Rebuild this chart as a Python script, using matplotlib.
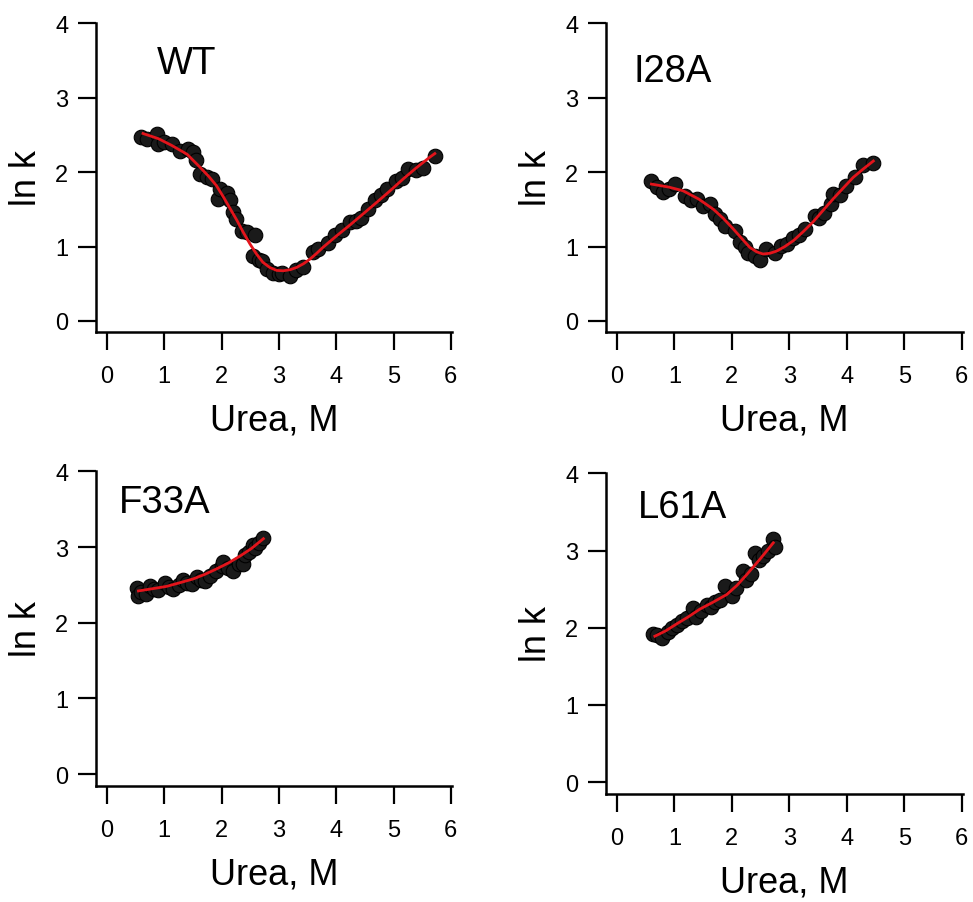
import matplotlib
matplotlib.use("Agg")
import matplotlib.pyplot as plt

plt.rcParams['font.family'] = ['Liberation Sans', 'DejaVu Sans']

# ---------------- data ----------------
wt_x = [0.60, 0.70, 0.87, 0.90, 1.00, 1.13, 1.27, 1.42, 1.50, 1.56, 1.62, 1.75, 1.83, 1.94,
        1.97, 2.10, 2.15, 2.20, 2.26, 2.35, 2.45, 2.55, 2.58, 2.65, 2.70, 2.80, 2.90, 3.00,
        3.05, 3.19, 3.30, 3.42, 3.60, 3.69, 3.85, 3.98, 4.10, 4.24, 4.35, 4.44, 4.55, 4.67,
        4.78, 4.88, 5.05, 5.15, 5.26, 5.40, 5.52, 5.72]
wt_y = [2.47, 2.44, 2.51, 2.38, 2.40, 2.38, 2.29, 2.31, 2.27, 2.17, 1.97, 1.93, 1.91, 1.64,
        1.77, 1.72, 1.62, 1.46, 1.37, 1.21, 1.19, 0.88, 1.15, 0.82, 0.80, 0.70, 0.65, 0.63,
        0.65, 0.61, 0.68, 0.72, 0.93, 0.97, 1.05, 1.15, 1.22, 1.33, 1.34, 1.39, 1.50, 1.62,
        1.70, 1.77, 1.88, 1.92, 2.04, 2.03, 2.06, 2.22]
wt_fit_x = [0.63, 0.90, 1.13, 1.40, 1.62, 1.78, 1.91, 2.03, 2.15, 2.27, 2.38, 2.50, 2.61, 2.72,
            2.84, 2.96, 3.08, 3.20, 3.31, 3.43, 3.54, 3.66, 3.77, 4.00, 4.24, 4.47, 4.70, 4.94,
            5.17, 5.40, 5.63, 5.72]
wt_fit_y = [2.52, 2.45, 2.36, 2.24, 2.07, 1.94, 1.82, 1.67, 1.51, 1.35, 1.19, 1.03, 0.90, 0.79,
            0.72, 0.68, 0.675, 0.69, 0.72, 0.77, 0.83, 0.91, 0.99, 1.14, 1.29, 1.44, 1.59, 1.75,
            1.91, 2.06, 2.20, 2.25]

i28_x = [0.60, 0.70, 0.81, 0.90, 1.01, 1.18, 1.28, 1.39, 1.50, 1.62, 1.70, 1.80, 1.88, 2.05,
         2.14, 2.22, 2.28, 2.40, 2.49, 2.60, 2.75, 2.86, 2.96, 3.07, 3.17, 3.27, 3.44, 3.52,
         3.60, 3.73, 3.76, 3.88, 3.99, 4.14, 4.28, 4.46]
i28_y = [1.88, 1.80, 1.73, 1.78, 1.84, 1.68, 1.62, 1.64, 1.55, 1.57, 1.44, 1.37, 1.28, 1.21,
         1.06, 1.00, 0.92, 0.87, 0.82, 0.97, 0.92, 1.01, 1.03, 1.12, 1.16, 1.24, 1.41, 1.38,
         1.45, 1.57, 1.71, 1.70, 1.82, 1.93, 2.09, 2.13]
i28_fit_x = [0.60, 0.90, 1.15, 1.42, 1.68, 1.85, 2.02, 2.17, 2.31, 2.43, 2.54, 2.66, 2.78,
             2.92, 3.07, 3.24, 3.41, 3.59, 3.76, 3.94, 4.11, 4.28, 4.46]
i28_fit_y = [1.84, 1.80, 1.75, 1.64, 1.50, 1.38, 1.24, 1.11, 0.99, 0.93, 0.90, 0.91, 0.94,
             1.00, 1.08, 1.20, 1.33, 1.49, 1.64, 1.79, 1.93, 2.04, 2.15]

f33_x = [0.52, 0.55, 0.60, 0.68, 0.75, 0.83, 0.90, 1.01, 1.08, 1.16, 1.25, 1.33, 1.40, 1.48,
         1.57, 1.64, 1.71, 1.80, 1.91, 2.00, 2.03, 2.12, 2.20, 2.30, 2.38, 2.41, 2.48, 2.55,
         2.58, 2.65, 2.73]
f33_y = [2.46, 2.35, 2.40, 2.38, 2.48, 2.45, 2.43, 2.52, 2.47, 2.44, 2.50, 2.57, 2.53, 2.51,
         2.61, 2.56, 2.55, 2.62, 2.68, 2.75, 2.80, 2.72, 2.68, 2.78, 2.77, 2.90, 2.93, 3.03,
         2.99, 3.05, 3.12]
f33_fit_x = [0.55, 0.80, 1.04, 1.28, 1.51, 1.71, 1.91, 2.12, 2.32, 2.52, 2.73]
f33_fit_y = [2.42, 2.45, 2.48, 2.53, 2.58, 2.64, 2.71, 2.79, 2.88, 2.98, 3.11]

l61_x = [0.63, 0.70, 0.78, 0.88, 0.95, 1.05, 1.13, 1.22, 1.33, 1.38, 1.47, 1.56, 1.63, 1.70,
         1.80, 1.88, 2.00, 2.08, 2.20, 2.25, 2.33, 2.40, 2.48, 2.54, 2.63, 2.72, 2.75]
l61_y = [1.92, 1.90, 1.87, 1.95, 2.00, 2.04, 2.09, 2.12, 2.26, 2.14, 2.22, 2.30, 2.27, 2.33,
         2.36, 2.54, 2.41, 2.52, 2.74, 2.62, 2.70, 2.97, 2.88, 2.93, 3.00, 3.15, 3.04]
l61_fit_x = [0.66, 0.85, 1.04, 1.24, 1.44, 1.67, 1.91, 2.09, 2.26, 2.49, 2.72]
l61_fit_y = [1.89, 1.96, 2.05, 2.14, 2.24, 2.33, 2.43, 2.55, 2.69, 2.89, 3.10]

panels = [
    ("WT", wt_x, wt_y, wt_fit_x, wt_fit_y),
    ("I28A", i28_x, i28_y, i28_fit_x, i28_fit_y),
    ("F33A", f33_x, f33_y, f33_fit_x, f33_fit_y),
    ("L61A", l61_x, l61_y, l61_fit_x, l61_fit_y),
]
label_pos = [(0.87, 3.33), (0.28, 3.22), (0.21, 3.46), (0.37, 3.44)]

x_ticks = [0, 1, 2, 3, 4, 5, 6]
y_ticks = [0, 1, 2, 3, 4]
x_ticklabels = ["0", "1", "2", "3", "4", "5", "6"]
y_ticklabels = ["0", "1", "2", "3", "4"]

# ---------------- layout ----------------
W, H = 973, 903
boxes = [  # left, top, right, bottom in pixels (spine box)
    (96, 24, 452, 333),
    (606, 24, 963, 333),
    (96, 472, 452, 787),
    (606, 474, 963, 795),
]
ylims = [(-0.148, 4.005), (-0.148, 4.005), (-0.158, 4.005), (-0.155, 4.005)]

fig = plt.figure(figsize=(W / 100, H / 100), dpi=100)

for (name, px, py, fx, fy), (l, t, r, b), yl, lp in zip(panels, boxes, ylims, label_pos):
    ax = fig.add_axes([l / W, 1 - b / H, (r - l) / W, (b - t) / H])
    ax.plot(px, py, 'o', color='#1a1a1a', ms=10.5, mec='black', mew=0.8, zorder=2)
    ax.plot(fx, fy, '-', color='#e3141b', lw=2.0, zorder=3)
    ax.set_xlim(-0.19, 6.02)
    ax.set_ylim(*yl)
    ax.set_xticks(x_ticks)
    ax.set_yticks(y_ticks)
    ax.set_xticklabels(x_ticklabels, fontsize=17)
    ax.set_yticklabels(y_ticklabels, fontsize=17)
    for s in ['top', 'right']:
        ax.spines[s].set_visible(False)
    for s in ['left', 'bottom']:
        ax.spines[s].set_linewidth(1.8)
    ax.tick_params(axis='both', direction='out', length=13, width=1.6)
    ax.tick_params(axis='x', pad=11)
    ax.tick_params(axis='y', pad=7)
    ax.set_xlabel("Urea, M", fontsize=26, labelpad=11)
    ax.set_ylabel("ln k", fontsize=26, labelpad=8)
    ax.text(lp[0], lp[1], name, fontsize=27.5, ha='left', va='baseline')
    ax.patch.set_alpha(0)
    for sp in ax.spines.values():
        sp.set_clip_on(False)

fig.savefig("out.png", dpi=100)
